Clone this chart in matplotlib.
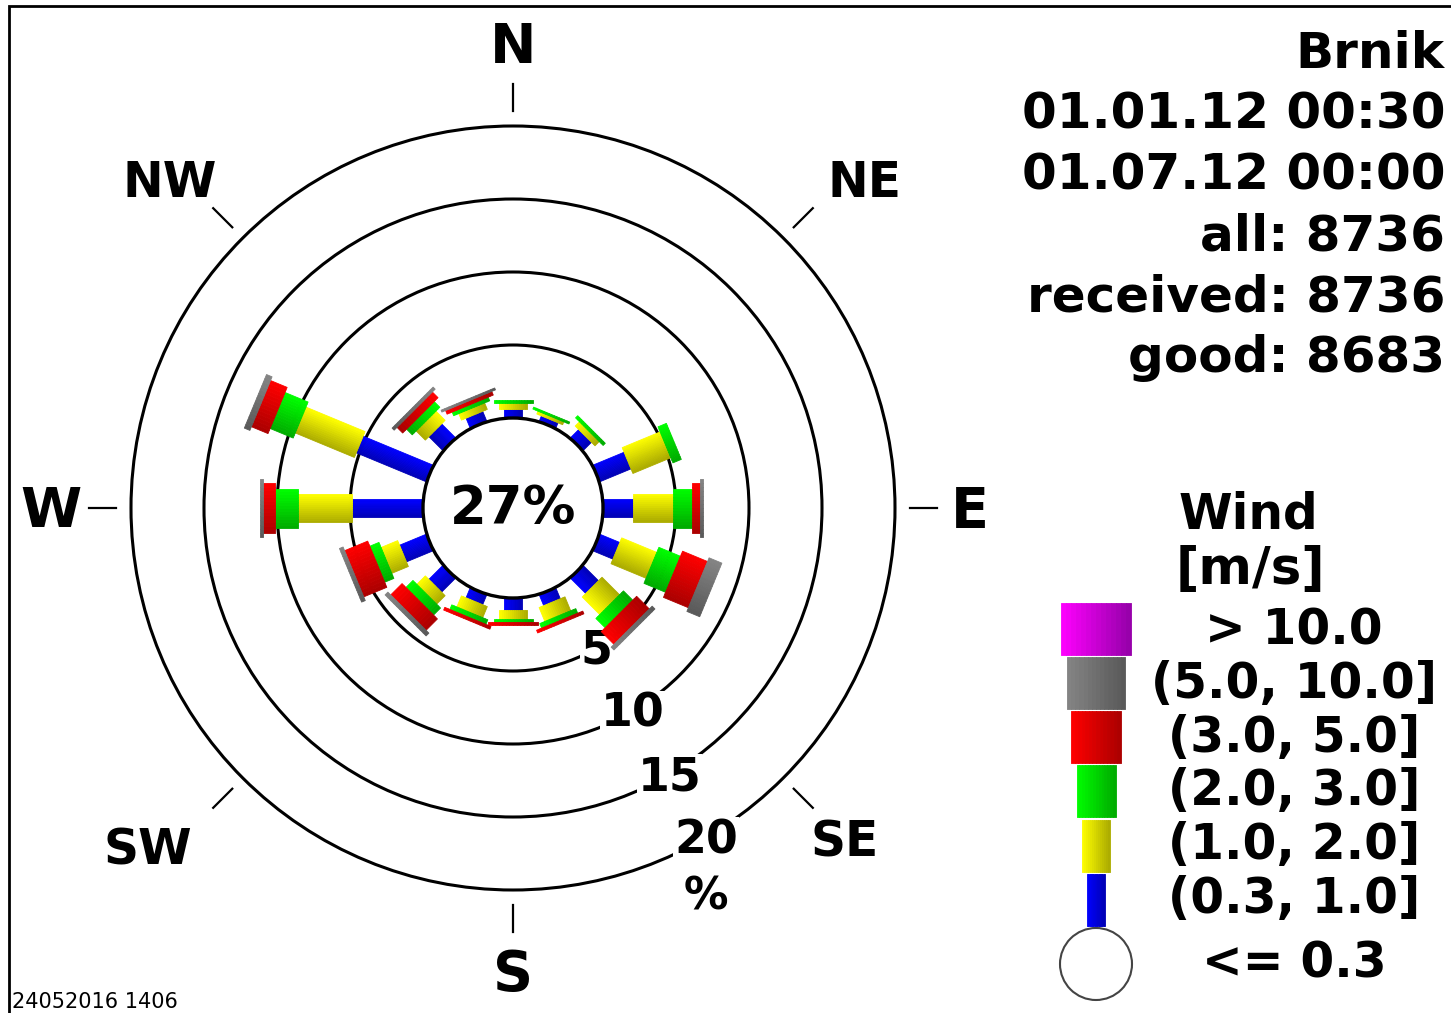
import numpy as np
import matplotlib.pyplot as plt
from matplotlib.collections import PolyCollection
from matplotlib.patches import Circle
from matplotlib.colors import to_rgb

plt.rcParams['font.family'] = ['DejaVu Sans']

# wind rose data (percent of time), 16 sectors starting at N, clockwise
directions = ['N', 'NNE', 'NE', 'ENE', 'E', 'ESE', 'SE', 'SSE',
              'S', 'SSW', 'SW', 'WSW', 'W', 'WNW', 'NW', 'NNW']
calm = 27
s_03_1 = [0.62, 0.41, 0.82, 2.33, 2.05, 1.50, 1.50, 0.82, 0.82, 0.75, 1.37, 1.99, 4.86, 5.20, 1.37, 0.75]
s_1_2 = [0.41, 0.21, 0.41, 2.81, 2.74, 2.60, 1.70, 1.03, 0.62, 0.82, 0.82, 1.23, 3.70, 4.38, 0.89, 0.48]
s_2_3 = [0.21, 0.14, 0.21, 0.62, 1.30, 1.60, 0.90, 0.34, 0.20, 0.34, 0.68, 0.68, 1.58, 1.71, 0.55, 0.27]
s_3_5 = [0, 0, 0, 0, 0.55, 1.85, 1.23, 0.20, 0.20, 0.20, 1.10, 1.71, 0.82, 1.23, 0.55, 0.27]
s_5_10 = [0, 0, 0, 0, 0.20, 0.95, 0.27, 0, 0, 0, 0.27, 0.27, 0.20, 0.41, 0.20, 0.14]
s_10 = [0] * 16
class_labels = ['(0.3, 1.0]', '(1.0, 2.0]', '(2.0, 3.0]', '(3.0, 5.0]', '(5.0, 10.0]', '> 10.0']
rings = [5, 10, 15, 20]
info = ['Brnik', '01.01.12 00:30', '01.07.12 00:00', 'all: 8736', 'received: 8736', 'good: 8683']

# style
bright = ['#0000ff', '#ffff00', '#00ff00', '#ff0000', '#858585', '#ff00ff']
dark = ['#0000b4', '#aaaa00', '#00aa00', '#aa0000', '#585858', '#9400a8']
widths = [18, 28, 39, 50, 58, 70]

W, H = 1451, 1013
fig = plt.figure(figsize=(W / 100, H / 100), dpi=100)
ax = fig.add_axes([0, 0, 1, 1])
ax.set_xlim(0, W)
ax.set_ylim(H, 0)
ax.set_aspect('equal')
ax.axis('off')

cx, cy = 513, 508
r0 = 90          # radius of calm circle
k = 73 / 5.0     # pixels per percent


def mix(c1, c2, f):
    a = np.array(to_rgb(c1))
    b = np.array(to_rgb(c2))
    return tuple(b + f * (a - b))


def shaded_bar(theta, ra, rb, width, cb, cd, org=(cx, cy), n=14, z=5):
    u = np.array([np.sin(theta), -np.cos(theta)])
    p = np.array([np.cos(theta), np.sin(theta)])
    s = -np.sign(round(p[0] + p[1], 6)) or 1.0
    o = np.array(org, dtype=float)
    polys, cols = [], []
    for i in range(n):
        o0 = -width / 2 + i * width / n
        o1 = o0 + width / n
        a0 = o + u * ra
        a1 = o + u * rb
        polys.append([a0 + p * o0, a1 + p * o0, a1 + p * o1, a0 + p * o1])
        f = (s * (o0 + o1) / 2 + width / 2) / width
        cols.append(mix(cb, cd, f))
    ax.add_collection(PolyCollection(polys, facecolors=cols, edgecolors=cols,
                                     linewidths=0.6, zorder=z))


# rings
for pct in rings:
    rr = r0 + pct * k
    ax.add_patch(Circle((cx, cy), rr, fill=False, ec='black', lw=2.2, zorder=2))
    ang = np.radians(150)
    ax.text(cx + rr * np.sin(ang) + 2, cy - rr * np.cos(ang) + 2, str(pct), fontsize=33,
            fontweight='bold', ha='center', va='center', zorder=3,
            bbox=dict(fc='white', ec='none', pad=0.5))
rr = r0 + rings[-1] * k
ax.text(cx + rr * np.sin(np.radians(150)) + 2, cy - rr * np.cos(np.radians(150)) + 58, '%',
        fontsize=32, fontweight='bold', ha='center', va='center', zorder=3)

# bars
classes = [s_03_1, s_1_2, s_2_3, s_3_5, s_5_10, s_10]
for d in range(16):
    theta = np.radians(d * 22.5)
    r = r0
    for c, vals in enumerate(classes):
        v = vals[d]
        if v <= 0:
            continue
        shaded_bar(theta, r, r + v * k, widths[c], bright[c], dark[c], z=5 + c)
        r += v * k

# calm circle
ax.add_patch(Circle((cx, cy), r0, fc='white', ec='black', lw=2.4, zorder=12))
ax.text(cx, cy + 1, f'{calm}%', fontsize=38, fontweight='bold', ha='center', va='center', zorder=13)

# compass ticks and labels
for d in range(0, 16, 2):
    t = np.radians(d * 22.5)
    ax.plot([cx + 397 * np.sin(t), cx + 424 * np.sin(t)],
            [cy - 397 * np.cos(t), cy - 424 * np.cos(t)], color='black', lw=1.6, zorder=2)
compass = {'N': (513, 63, 40), 'NE': (865, 197, 35), 'E': (970, 527, 40), 'SE': (845, 856, 35),
           'S': (513, 990, 40), 'SW': (148, 864, 35), 'W': (51, 527, 40), 'NW': (170, 197, 35)}
for name, (x, y, fs) in compass.items():
    ax.text(x, y, name, fontsize=fs, fontweight='bold', ha='center', va='baseline')

# info block
for i, line in enumerate(info):
    ax.text(1445, 68 + i * 60.8, line, fontsize=36, fontweight='bold', ha='right', va='baseline')

# legend
ax.text(1248, 528, 'Wind', fontsize=35, fontweight='bold', ha='center', va='baseline')
ax.text(1250, 584, '[m/s]', fontsize=37, fontweight='bold', ha='center', va='baseline')
base = 926
for c in range(6):
    y1 = base - c * 54.3
    shaded_bar(0.0, 0, 52, widths[c], bright[c], dark[c], org=(1096, y1), z=5)
ax.add_patch(Circle((1096, 964), 36, fc='white', ec='#444444', lw=1.5))
ax.text(1294, 977, '<= 0.3', fontsize=35, fontweight='bold', ha='center', va='baseline')
for c, lab in enumerate(class_labels):
    ax.text(1294, 913 - c * 53.8, lab, fontsize=35, fontweight='bold', ha='center', va='baseline')

# frame + stamp
ax.plot([9, 9, W], [H, 6, 6], color='black', lw=2, solid_joinstyle='miter')
ax.text(12, 1008, '24052016 1406', fontsize=15, ha='left', va='baseline')

fig.savefig('out.png', dpi=100)
